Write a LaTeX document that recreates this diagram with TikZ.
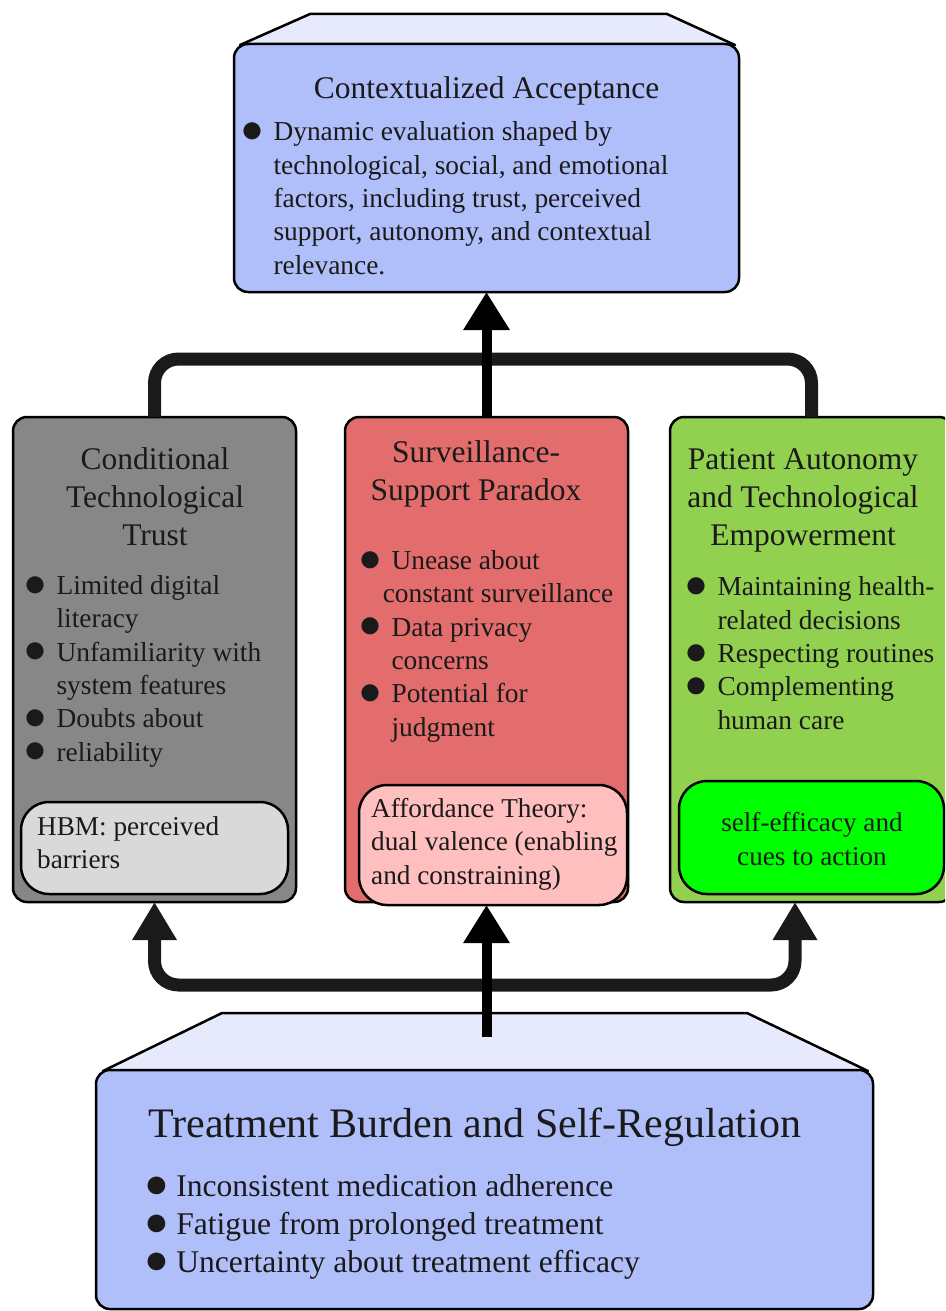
\documentclass[tikz,border=0pt]{standalone}
\usepackage{fontspec}
\setmainfont{Liberation Serif}
\usetikzlibrary{arrows.meta}
\definecolor{bluebox}{HTML}{B0BFFA}
\definecolor{trapcol}{HTML}{E7EAFC}
\definecolor{graybox}{HTML}{878787}
\definecolor{grayin}{HTML}{D9D9D9}
\definecolor{redbox}{HTML}{E36D6D}
\definecolor{pinkin}{HTML}{FFBFBF}
\definecolor{greenbox}{HTML}{92D050}
\definecolor{greenin}{HTML}{00FF00}
\definecolor{brkcol}{HTML}{1A1A1A}
\definecolor{tcol}{HTML}{1A1A1A}
\newcommand\bglyph[1]{\hspace*{-0.12em}\raisebox{-0.06em}{\scalebox{#1}{●}}}
\newcommand\bu{\makebox[1.07em][l]{\bglyph{1.45}}}
\newcommand\bbu{\makebox[0.89em][l]{\bglyph{1.3}}}
\newcommand\ind{\hspace*{1.07em}}
\begin{document}
\begin{tikzpicture}[x=1pt,y=-1pt,
  box/.style={draw=black, line width=2.5pt, rounded corners=14pt, inner sep=0pt, outer sep=0pt},
  inbox/.style={draw=black, line width=2.5pt, rounded corners=28pt, inner sep=0pt, outer sep=0pt},
  trap/.style={fill=trapcol, draw=black, line width=2.5pt, line join=round},
  txt/.style={inner sep=0pt, anchor=base west, align=left, text=tcol, font=\fontsize{27.4}{33.3}\selectfont},
  ttl/.style={inner sep=0pt, anchor=base, align=center, text=tcol, font=\fontsize{31.5}{38}\selectfont},
  brk/.style={draw=brkcol, line width=13pt, rounded corners=24pt},
  carrow/.style={draw=black, line width=10pt, -{Triangle[length=38pt,width=44pt]}},
  brkarrows/.style={{Triangle[length=38pt,width=42pt]}-{Triangle[length=38pt,width=42pt]}}
]
\useasboundingbox (0,0) rectangle (945,1311);
\clip (0,0) rectangle (945,1311);

% top box
\filldraw[trap] (240,45) -- (310,14) -- (667,14) -- (735,45) -- cycle;
\node[box, fill=bluebox, minimum width=505pt, minimum height=248pt] (acc) at (486.5,168) {};
\node[ttl] (acct) at (486.5,99) {Contextualized Acceptance};
\node[txt] (accb) at (244,274) {\bu Dynamic evaluation shaped by\\
\ind technological, social, and emotional\\
\ind factors, including trust, perceived\\
\ind support, autonomy, and contextual\\
\ind relevance.};

% middle boxes
\node[box, fill=graybox, minimum width=283pt, minimum height=485pt] (trust) at (154.5,659.5) {};
\node[box, fill=redbox, minimum width=283pt, minimum height=485pt] (para) at (486.5,659.5) {};
\node[box, fill=greenbox, minimum width=283pt, minimum height=485pt] (auto) at (811.5,659.5) {};

\node[ttl] (trustt) at (155,545) {Conditional\\Technological\\Trust};
\node[txt] (trustb) at (27,761) {\bu Limited digital\\
\ind literacy\\
\bu Unfamiliarity with\\
\ind system features\\
\bu Doubts about\\
\bu reliability};
\node[inbox, fill=grayin, minimum width=267pt, minimum height=92pt] (hbm) at (154.5,848) {};
\node[txt, font=\fontsize{27.2}{33}\selectfont] (hbmt) at (37,868) {HBM: perceived\\barriers};

\node[ttl] (parat) at (476,500) {Surveillance-\\Support Paradox};
\node[txt] (parab) at (362,736) {\bu Unease about\\
\hspace*{0.75em}constant surveillance\\
\bu Data privacy\\
\ind concerns\\
\bu Potential for\\
\ind judgment};
\node[inbox, fill=pinkin, minimum width=268pt, minimum height=120pt] (pink) at (493,845) {};
\node[txt, font=\fontsize{27.2}{33.5}\selectfont] (pinkt) at (371,884) {Affordance Theory:\\dual valence (enabling\\and constraining)};

\node[ttl] (autot) at (803,545) {Patient Autonomy\\and Technological\\Empowerment};
\node[txt] (autob) at (688,729) {\bu Maintaining health-\\
\ind related decisions\\
\bu Respecting routines\\
\bu Complementing\\
\ind human care};
\node[inbox, fill=greenin, minimum width=265pt, minimum height=113pt] (gin) at (811.5,837.5) {};
\node[ttl, font=\fontsize{27.2}{34}\selectfont] (gint) at (812,865) {self-efficacy and\\cues to action};

% bottom box
\filldraw[trap] (103,1071) -- (222,1013) -- (747,1013) -- (868,1071) -- cycle;
\node[box, fill=bluebox, minimum width=777pt, minimum height=239pt] (burden) at (484.5,1189.5) {};
\node[txt, font=\fontsize{42}{50}\selectfont] (burdent) at (148,1137) {Treatment Burden and Self-Regulation};
\node[txt, font=\fontsize{31.6}{38}\selectfont] (burdenb) at (148,1272) {\bbu Inconsistent medication adherence\\
\bbu Fatigue from prolonged treatment\\
\bbu Uncertainty about treatment efficacy};

% connectors
\coordinate (ub) at (486.5,359);
\coordinate (lb) at (486.5,985);
\coordinate (gtip) at (795,902);
\coordinate (ptip) at (486.5,905);
\coordinate (bsrc) at (486.5,1037);
\draw[brk] (trust.north) |- (ub) -| (auto.north);
\draw[carrow] (para.north) -- (acc.south);
\draw[brk, brkarrows] (trust.south) |- (lb) -| (gtip);
\draw[carrow] (bsrc) -- (ptip);
\end{tikzpicture}
\end{document}
